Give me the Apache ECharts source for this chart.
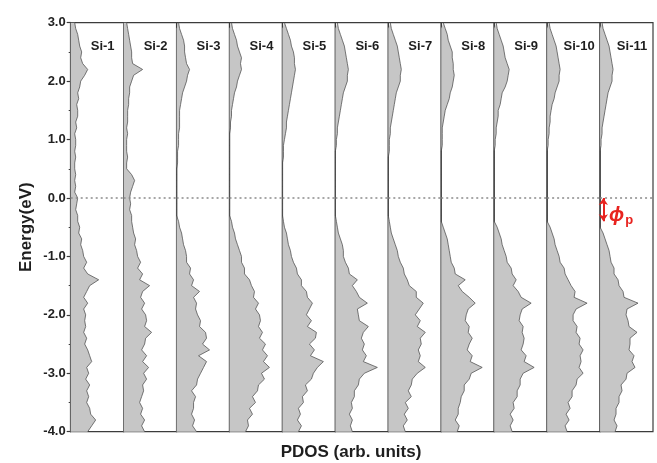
<!DOCTYPE html>
<html><head><meta charset="utf-8">
<script src="https://cdn.jsdelivr.net/npm/echarts@6/dist/echarts.min.js"></script>
<style>html,body{margin:0;padding:0;background:#fff}#c{width:657px;height:463px}</style>
</head><body><div id="c"></div>
<script>
const energies = [
'-4.0','-3.9','-3.8','-3.7','-3.6','-3.5','-3.4','-3.3','-3.2','-3.1',
'-3.0','-2.9','-2.8','-2.7','-2.6','-2.5','-2.4','-2.3','-2.2','-2.1',
'-2.0','-1.9','-1.8','-1.7','-1.6','-1.5','-1.4','-1.3','-1.2','-1.1',
'-1.0','-0.9','-0.8','-0.7','-0.6','-0.5','-0.4','-0.3','-0.2','-0.1',
'0.0','0.1','0.2','0.3','0.4','0.5','0.6','0.7','0.8','0.9',
'1.0','1.1','1.2','1.3','1.4','1.5','1.6','1.7','1.8','1.9',
'2.0','2.1','2.2','2.3','2.4','2.5','2.6','2.7','2.8','2.9',
'3.0'];
const panelLabels = ['Si-1','Si-2','Si-3','Si-4','Si-5','Si-6','Si-7','Si-8','Si-9','Si-10','Si-11'];
const energyTicks = [-4, -3, -2, -1, 0, 1, 2, 3];

const si1 = [17,21,25,20,19,16,18,16,19,15, 18,16,21,19,17,14,16,13,15,14, 15,13,17,13,16,19,28,17,13,16, 13,12,10,11,8,9,7,7,5,6, 7,4,5,4,5,4,4,5,4,5, 5,4,6,5,7,7,6,8,7,9, 10,14,17,12,10,11,9,8,7,5, 4];
const si2 = [21,18,21,17,19,16,18,20,19,23, 20,25,19,23,18,21,22,28,21,23, 22,18,21,17,19,26,16,19,14,17, 14,13,11,12,10,9,8,8,6,7, 6,7,9,11,8,3,3,4,3,3, 3,4,3,4,4,4,5,5,6,6, 8,10,19,9,8,8,7,6,5,4, 3];
const si3 = [20,16,18,15,17,17,19,15,20,21, 24,27,30,22,33,26,30,29,23,24, 21,19,20,17,23,15,17,13,14,10, 10,9,7,6,5,3,2,0,0,0, 0,0,0,0,0,0,1,1,1,2, 2,2,3,3,3,3,4,5,6,8, 10,11,13,10,9,8,8,7,5,3, 2];
const si4 = [16,19,18,23,20,26,23,28,29,35, 32,40,34,38,33,36,30,33,29,31, 30,26,29,24,25,22,20,15,15,12, 12,10,8,6,5,3,2,0,0,0, 0,0,0,0,0,0,0,0,0,0, 0,0,1,1,2,2,3,4,5,7, 8,10,12,11,12,10,8,7,5,3, 2];
const si5 = [16,19,15,18,16,21,20,25,23,29, 31,35,41,28,32,27,33,34,25,29, 24,27,30,25,24,19,19,15,14,11, 9,8,6,5,4,2,1,0,0,0, 0,0,0,0,0,0,0,1,1,1, 2,3,4,4,5,6,7,8,9,10, 11,12,13,12,12,11,9,8,6,4, 2];
const si6 = [17,15,17,14,17,16,19,19,23,24, 29,42,28,31,27,29,26,28,33,24, 23,22,32,24,21,17,22,14,13,10, 8,8,7,5,3,2,1,0,0,0, 0,0,0,0,0,0,0,0,0,1, 1,2,2,3,4,5,6,7,8,10, 12,12,13,12,11,10,9,7,5,3, 2];
const si7 = [17,15,19,16,20,17,23,20,23,24, 29,37,30,32,30,33,32,37,29,32, 27,31,35,28,28,21,19,16,15,12, 10,9,7,5,3,2,1,0,0,0, 0,0,0,0,0,0,0,0,1,1, 1,2,2,3,4,5,6,7,8,10, 12,12,13,12,11,10,9,7,5,3, 2];
const si8 = [16,18,14,17,17,19,20,23,23,28, 30,41,29,31,26,28,31,27,28,24, 25,27,34,28,21,17,24,14,13,10, 9,8,7,6,4,2,0,0,0,0, 0,0,0,0,0,0,0,0,0,1, 1,1,1,2,3,4,6,8,9,11, 12,13,12,12,11,11,9,7,6,4, 2];
const si9 = [18,16,19,16,20,19,23,23,26,26, 29,40,30,32,27,29,30,28,29,25, 26,28,37,27,24,19,22,18,17,13, 12,10,8,7,5,3,0,0,0,0, 0,0,0,0,0,0,0,0,0,1, 1,2,2,3,4,4,6,7,8,11, 13,14,15,13,11,10,9,7,5,3, 2];
const si10 = [20,18,22,19,23,21,25,25,29,30, 36,32,34,33,36,32,33,29,30,26, 26,29,40,27,28,24,21,18,17,13, 12,10,8,7,5,3,0,0,0,0, 0,0,0,0,0,0,0,0,0,1, 1,2,2,3,3,4,5,7,8,10, 12,12,13,12,11,10,9,7,5,3, 2];
const si11 = [15,17,14,16,16,19,19,22,21,26, 27,35,32,34,29,30,30,37,29,28, 26,27,38,24,23,19,18,14,14,11, 10,9,7,5,3,0,0,0,0,0, 0,0,0,0,0,0,0,0,0,1, 1,2,2,3,4,5,6,7,8,10, 12,12,13,12,11,10,9,7,5,3, 2];
const pdos = [si1, si2, si3, si4, si5, si6, si7, si8, si9, si10, si11];

// annotation values
const gapArrow = {x: 3.3, from: '0.0', to: '-0.4'};
const phiLabelPos = [21, '-0.3'];
const labelPos = [32, '2.6'];

const FONT = 'Arial, "Liberation Sans", sans-serif';
const L = 70.7, R = 653, T = 22.7, B = 431.7;
const W = (R - L) / pdos.length;

const grids = [], xAxes = [], yAxes = [], series = [];
pdos.forEach((vals, i) => {
  grids.push({left: L + i * W, top: T, width: W, height: B - T, show: true,
    borderColor: '#3c3c3c', borderWidth: 1.2, backgroundColor: 'transparent'});
  xAxes.push({gridIndex: i, type: 'value', min: 0, max: 53, show: false});
  yAxes.push({gridIndex: i, type: 'category', data: energies, boundaryGap: false, show: false, position: 'left'});
  const mlData = [{yAxis: '0.0', lineStyle: {color: '#8a8a8a', type: [2, 3], width: 1.5}, symbol: 'none'}];
  const mpData = [{coord: labelPos, name: panelLabels[i],
    label: {show: true, formatter: '{b}', position: 'inside', fontFamily: FONT, fontWeight: 'bold', fontSize: 13, color: '#1e1e1e'}}];
  if (i === pdos.length - 1) {
    mlData.push([
      {coord: [gapArrow.x, gapArrow.from], symbol: 'arrow', symbolSize: [7, 7], lineStyle: {color: '#e8231f', width: 2, type: 'solid'}},
      {coord: [gapArrow.x, gapArrow.to], symbol: 'arrow', symbolSize: [7, 7]}
    ]);
    mpData.push({coord: phiLabelPos, name: 'phi',
      label: {show: true, position: 'inside', formatter: '{a|\u03d5}{b|p}',
        rich: {
          a: {fontFamily: FONT, fontSize: 20, fontStyle: 'italic', fontWeight: 'bold', color: '#e8231f'},
          b: {fontFamily: FONT, fontSize: 13, fontWeight: 'bold', color: '#e8231f', verticalAlign: 'bottom', padding: [10, 0, 0, 1]}
        }}});
  }
  series.push({
    type: 'line', xAxisIndex: i, yAxisIndex: i, data: vals, symbol: 'none', silent: true,
    lineStyle: {color: '#555555', width: 0.8},
    areaStyle: {color: '#c6c6c6', opacity: 1},
    markLine: {silent: true, symbol: ['none', 'none'], label: {show: false}, animation: false, data: mlData},
    markPoint: {silent: true, symbol: 'circle', symbolSize: 1, itemStyle: {color: 'rgba(0,0,0,0)'}, animation: false, data: mpData}
  });
});

yAxes.push({
  gridIndex: 0, type: 'value', position: 'left',
  min: energyTicks[0], max: energyTicks[energyTicks.length - 1], interval: 1,
  axisLine: {show: true, lineStyle: {color: '#3c3c3c', width: 1.2}},
  axisTick: {show: true, length: 4, lineStyle: {color: '#3c3c3c', width: 1.2}},
  minorTick: {show: true, splitNumber: 2, length: 2, lineStyle: {color: '#3c3c3c'}},
  splitLine: {show: false},
  axisLabel: {formatter: v => v.toFixed(1), fontFamily: FONT, fontWeight: 'bold', fontSize: 13, color: '#222', margin: 5},
  name: 'Energy(eV)', nameLocation: 'middle', nameGap: 36,
  nameTextStyle: {fontFamily: FONT, fontWeight: 'bold', fontSize: 17, color: '#1e1e1e'}
});

const chart = echarts.init(document.getElementById('c'), null, {renderer: 'canvas'});
chart.setOption({
  animation: false,
  backgroundColor: '#ffffff',
  grid: grids, xAxis: xAxes, yAxis: yAxes, series: series,
  graphic: [{type: 'text', x: 351, y: 452, silent: true,
    style: {text: 'PDOS (arb. units)', textAlign: 'center', textVerticalAlign: 'middle',
      font: 'bold 17px ' + FONT, fill: '#1e1e1e'}}]
});
</script></body></html>
